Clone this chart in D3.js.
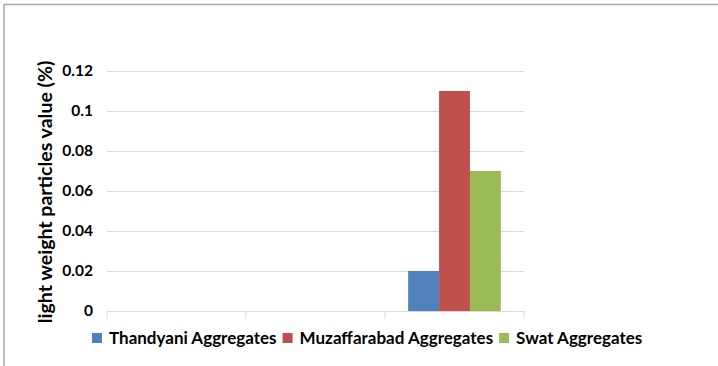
<!DOCTYPE html>
<html>
<head>
<meta charset="utf-8">
<script src="https://cdn.jsdelivr.net/npm/d3@7"></script>
<style>
  html, body { margin: 0; padding: 0; background: #fff; }
  svg { display: block; }
  text { font-family: Lato, "Open Sans", sans-serif; font-weight: bold; fill: #000; }
</style>
</head>
<body>
<svg id="chart" width="718" height="366"></svg>
<script>
// Category slots along the x axis (no labels are shown for them)
const categories = ["c1", "c2", "c3"];

// Series names and their values per category
const seriesNames = ["Thandyani Aggregates", "Muzaffarabad Aggregates", "Swat Aggregates"];
const thandyani    = [0, 0, 0.02];
const muzaffarabad = [0, 0, 0.11];
const swat         = [0, 0, 0.07];
const seriesColors = ["#4f81bd", "#c0504d", "#9bbb59"];

// Value axis ticks
const yTicks = [0, 0.02, 0.04, 0.06, 0.08, 0.1, 0.12];
const yTitle = "light weight particles value (%)";

const seriesValues = [thandyani, muzaffarabad, swat];
const rows = categories.map((c, i) => ({
  cat: c,
  vals: seriesNames.map((s, j) => ({ name: s, value: seriesValues[j][i], color: seriesColors[j] }))
}));

const svg = d3.select("#chart");

// Outer frame: top and left edges
svg.append("line").attr("x1", 4).attr("x2", 718).attr("y1", 4.5).attr("y2", 4.5)
  .attr("stroke", "#a6a6a6").attr("stroke-width", 1.5);
svg.append("line").attr("x1", 4).attr("x2", 4).attr("y1", 4).attr("y2", 366)
  .attr("stroke", "#a6a6a6").attr("stroke-width", 1.5);

const plot = { left: 107, right: 524, top: 71, bottom: 311 };

const x = d3.scaleBand().domain(categories).range([plot.left, plot.right]).paddingInner(0).paddingOuter(0);
const y = d3.scaleLinear().domain([0, 0.12]).range([plot.bottom, plot.top]);

// Bars occupy 3 slots plus a 150% gap split on both sides
const barW = x.bandwidth() / (seriesNames.length + 1.5);
const x1 = d3.scaleBand().domain(seriesNames)
  .range([0.75 * barW, 0.75 * barW + seriesNames.length * barW]).padding(0);

// Gridlines
const yAxis = d3.axisLeft(y).tickValues(yTicks)
  .tickSize(-(plot.right - plot.left))
  .tickPadding(14)
  .tickFormat(d => String(+d.toFixed(2)));
const gy = svg.append("g").attr("transform", `translate(${plot.left},0)`).call(yAxis);
gy.select(".domain").remove();
gy.selectAll(".tick line").attr("stroke", "#d9d9d9").attr("stroke-width", 1)
  .filter(d => d === 0).remove();
gy.selectAll(".tick text").attr("font-size", 15.5).attr("font-family", "Lato, sans-serif")
  .attr("font-weight", "bold").attr("fill", "#000");

// Bars
const groups = svg.append("g").selectAll("g").data(rows).join("g")
  .attr("transform", d => `translate(${x(d.cat)},0)`);
groups.selectAll("rect").data(d => d.vals.filter(v => v.value > 0)).join("rect")
  .attr("x", d => x1(d.name))
  .attr("width", x1.bandwidth())
  .attr("y", d => y(d.value))
  .attr("height", d => y(0) - y(d.value))
  .attr("fill", d => d.color);

// Category axis with tick marks between slots
const xAxis = d3.axisBottom(x).tickValues([]).tickSizeOuter(0);
const gx = svg.append("g").attr("transform", `translate(0,${plot.bottom})`).call(xAxis);
gx.select(".domain").attr("stroke", "#d9d9d9");
const boundaries = categories.map(c => x(c)).concat([plot.right]);
gx.selectAll("line.sep").data(boundaries).join("line").attr("class", "sep")
  .attr("x1", d => d).attr("x2", d => d).attr("y1", 0).attr("y2", 8)
  .attr("stroke", "#d9d9d9");

// Value axis title
svg.append("text")
  .attr("transform", `translate(52,${(plot.top + plot.bottom) / 2 + 1}) rotate(-90)`)
  .attr("text-anchor", "middle")
  .attr("font-size", 19.5)
  .text(yTitle);

// Legend
const legend = svg.append("g").attr("transform", "translate(92,338)");
let lx = 0;
seriesNames.forEach((name, i) => {
  const item = legend.append("g").attr("transform", `translate(${lx},0)`);
  item.append("rect").attr("x", 0).attr("y", -5).attr("width", 10).attr("height", 10)
    .attr("fill", seriesColors[i]);
  const t = item.append("text").attr("x", 17).attr("y", 6).attr("font-size", 17).text(name);
  lx += 17 + t.node().getComputedTextLength() + 6;
});
</script>
</body>
</html>
